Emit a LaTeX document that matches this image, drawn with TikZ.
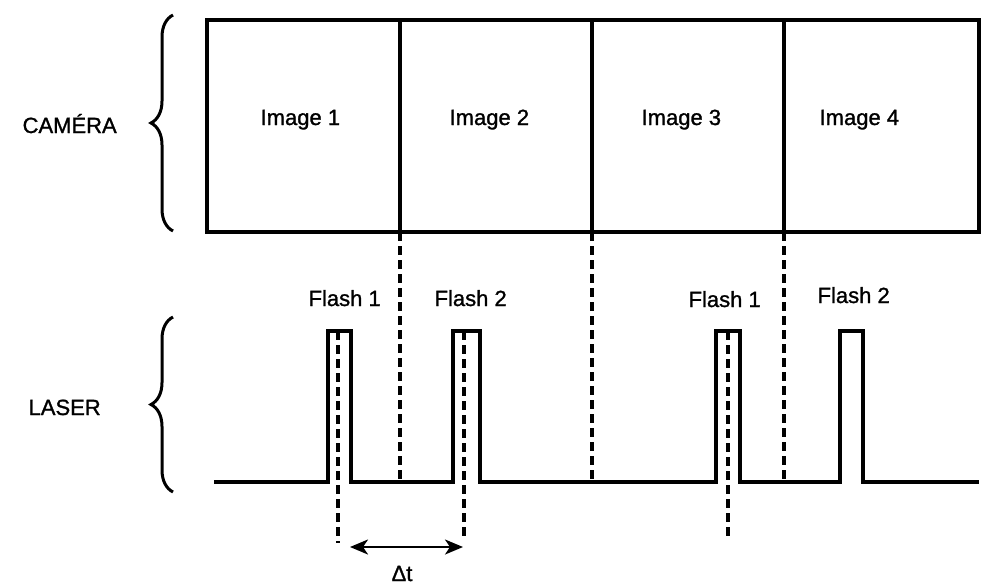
\documentclass[tikz,border=0pt]{standalone}
\usepackage{fontspec}
\setmainfont{Liberation Sans}
\usetikzlibrary{arrows.meta,decorations.pathreplacing}

\begin{document}
\begin{tikzpicture}[x=1pt,y=-1pt,line width=3.2pt,
    lbl/.style={font=\fontsize{22}{26}\selectfont\addfontfeature{FakeBold=1.2},anchor=base west,inner sep=0pt},
    sync/.style={dash pattern=on 9pt off 5pt,line width=3.4pt},
    curly/.style={decorate,decoration={brace,amplitude=22pt},line width=3pt}]
  \useasboundingbox (0,0) rectangle (984,584);
  % camera: four frames side by side
  \draw (207,20) rectangle (979,232);
  \foreach \xx in {400,592,784}
    \draw (\xx,20) -- (\xx,232);
  \foreach \i/\xx in {1/259,2/448,3/640,4/818}
    \node[lbl] (img\i) at (\xx,125) {Image \i};
  \draw[curly] (173,231) -- (173,15);
  \node[lbl] (cam) at (21,133) {CAMÉRA};
  % laser: two pulses per frame pair
  \draw[line cap=rect] (216,482) -- (328,482) -- (328,331) -- (351,331) -- (351,482)
    -- (453,482) -- (453,331) -- (480,331) -- (480,482)
    -- (716,482) -- (716,331) -- (740,331) -- (740,482)
    -- (840,482) -- (840,331) -- (863,331) -- (863,482) -- (977,482);
  \draw[curly] (173,492) -- (173,317);
  \node[lbl] (las) at (27,415) {LASER};
  \node[lbl] (fl1) at (307,306) {Flash 1};
  \node[lbl] (fl2) at (433,306) {Flash 2};
  \node[lbl] (fl3) at (687,307) {Flash 1};
  \node[lbl] (fl4) at (816,303) {Flash 2};
  % frame boundaries carried down
  \foreach \xx in {400,592,784}
    \draw[sync] (\xx,232) -- (\xx,482);
  % pulse centres
  \coordinate (p1) at (338,543);
  \coordinate (p2) at (464,540);
  \coordinate (p3) at (728,540);
  \draw[sync] (338,331) -- (p1);
  \draw[sync] (464,331) -- (p2);
  \draw[sync] (728,331) -- (p3);
  % time between the two flashes
  \coordinate (dtl) at (350,547);
  \coordinate (dtr) at (463,547);
  \draw[{Stealth[length=18pt,width=15pt,inset=5pt]}-{Stealth[length=18pt,width=15pt,inset=5pt]},line width=2.4pt] (dtl) -- (dtr);
  \node[lbl] (dt) at (390,581) {Δt};
\end{tikzpicture}
\end{document}
